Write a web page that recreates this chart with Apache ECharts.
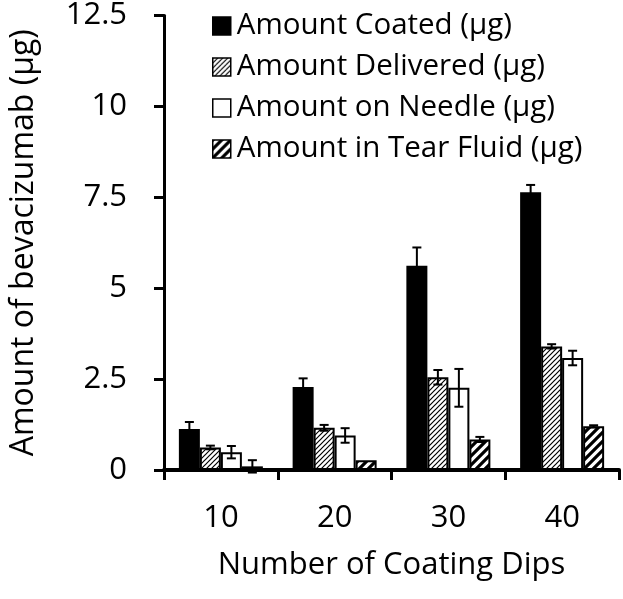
<!DOCTYPE html>
<html>
<head>
<meta charset="utf-8">
<script src="https://cdn.jsdelivr.net/npm/echarts@6/dist/echarts.min.js"></script>
<style>html,body{margin:0;padding:0;background:#fff}#c{width:623px;height:599px}</style>
</head>
<body>
<div id="c"></div>
<script>
const categories = ['10', '20', '30', '40'];
const seriesNames = ['Amount Coated (µg)', 'Amount Delivered (µg)', 'Amount on Needle (µg)', 'Amount in Tear Fluid (µg)'];
const coated = [1.13, 2.28, 5.62, 7.64];
const coatedErr = [0.19, 0.24, 0.5, 0.2];
const delivered = [0.62, 1.16, 2.55, 3.4];
const deliveredErr = [0.05, 0.08, 0.2, 0.06];
const needle = [0.49, 0.95, 2.26, 3.08];
const needleErr = [0.17, 0.2, 0.52, 0.2];
const tear = [0.1, 0.27, 0.84, 1.2];
const tearErr = [0.17, 0.0, 0.07, 0.03];
const yTicks = ['0', '2.5', '5', '7.5', '10', '12.5'];

const values = [coated, delivered, needle, tear];
const errs = [coatedErr, deliveredErr, needleErr, tearErr];

function hatch(size, lw) {
  const c = document.createElement('canvas');
  c.width = c.height = size;
  const g = c.getContext('2d');
  g.fillStyle = '#fff';
  g.fillRect(0, 0, size, size);
  g.strokeStyle = '#000';
  g.lineWidth = lw;
  g.beginPath();
  g.moveTo(-1, size + 1); g.lineTo(size + 1, -1);
  g.moveTo(-size / 2 - 1, size / 2 + 1); g.lineTo(size / 2 + 1, -size / 2 - 1);
  g.moveTo(size / 2 - 1, size * 1.5 + 1); g.lineTo(size * 1.5 + 1, size / 2 - 1);
  g.stroke();
  return { image: c, repeat: 'repeat' };
}

const fills = ['#000', hatch(5, 1.2), '#fff', hatch(9, 3.2)];
const FONT = 'Open Sans';
const FS = 31;

const barSeries = seriesNames.map((n, i) => ({
  name: n,
  type: 'bar',
  data: values[i],
  barWidth: 21,
  barGap: '0%',
  itemStyle: { color: fills[i], borderColor: '#000', borderWidth: 2 },
  emphasis: { disabled: true },
  z: 2
}));

const errData = [];
for (let s = 0; s < 4; s++) {
  for (let c = 0; c < categories.length; c++) {
    errData.push([c, values[s][c], errs[s][c], s]);
  }
}

const errSeries = {
  type: 'custom',
  data: errData,
  encode: { x: 0, y: 1 },
  z: 5,
  silent: true,
  renderItem: function (params, api) {
    const c = api.value(0), v = api.value(1), e = api.value(2), s = api.value(3);
    if (e <= 0) return null;
    const base = api.coord([c, v]);
    const bw = 21;
    const x = base[0] + (s - 1.5) * bw;
    const top = api.coord([c, v + e])[1];
    const bot = api.coord([c, v - e])[1];
    const cap = 4.5;
    const st = { stroke: '#000', lineWidth: 2 };
    return {
      type: 'group',
      children: [
        { type: 'line', shape: { x1: x, y1: top, x2: x, y2: bot }, style: st },
        { type: 'line', shape: { x1: x - cap, y1: top, x2: x + cap, y2: top }, style: st },
        { type: 'line', shape: { x1: x - cap, y1: bot, x2: x + cap, y2: bot }, style: st }
      ]
    };
  }
};

const chart = echarts.init(document.getElementById('c'), null, { renderer: 'canvas' });
chart.setOption({
  animation: false,
  backgroundColor: '#fff',
  textStyle: { fontFamily: FONT, color: '#000' },
  grid: { left: 155, right: 4, top: 10, bottom: 129, containLabel: false },
  legend: {
    data: seriesNames,
    orient: 'vertical',
    left: 207,
    top: 6,
    itemWidth: 18,
    itemHeight: 18,
    itemGap: 11,
    icon: 'rect',
    selectedMode: false,
    textStyle: { fontFamily: FONT, fontSize: 29.5, color: '#000', lineHeight: 30, padding: [0, 0, 0, 1] },
    itemStyle: { borderColor: '#000', borderWidth: 1.5 }
  },
  xAxis: {
    type: 'category',
    data: categories,
    name: 'Number of Coating Dips',
    nameLocation: 'middle',
    nameGap: 80,
    nameTextStyle: { fontFamily: FONT, fontSize: FS, color: '#000' },
    axisLine: { lineStyle: { color: '#000', width: 4 } },
    axisTick: { show: true, length: 10, lineStyle: { color: '#000', width: 3 } },
    axisLabel: { fontFamily: FONT, fontSize: FS, color: '#000', margin: 33 },
    splitLine: { show: false }
  },
  yAxis: {
    type: 'value',
    min: 0,
    max: 12.5,
    interval: 2.5,
    name: 'Amount of bevacizumab (µg)',
    nameLocation: 'middle',
    nameGap: 124,
    nameTextStyle: { fontFamily: FONT, fontSize: 32, color: '#000' },
    axisLine: { show: true, lineStyle: { color: '#000', width: 3 } },
    axisTick: { show: true, length: 10, lineStyle: { color: '#000', width: 3 } },
    axisLabel: {
      fontFamily: FONT, fontSize: FS, color: '#000', margin: 37,
      formatter: function (v) { const i = Math.round(v / 2.5); return yTicks[i] !== undefined ? yTicks[i] : ''; }
    },
    splitLine: { show: false }
  },
  series: barSeries.concat([errSeries])
});
</script>
</body>
</html>
